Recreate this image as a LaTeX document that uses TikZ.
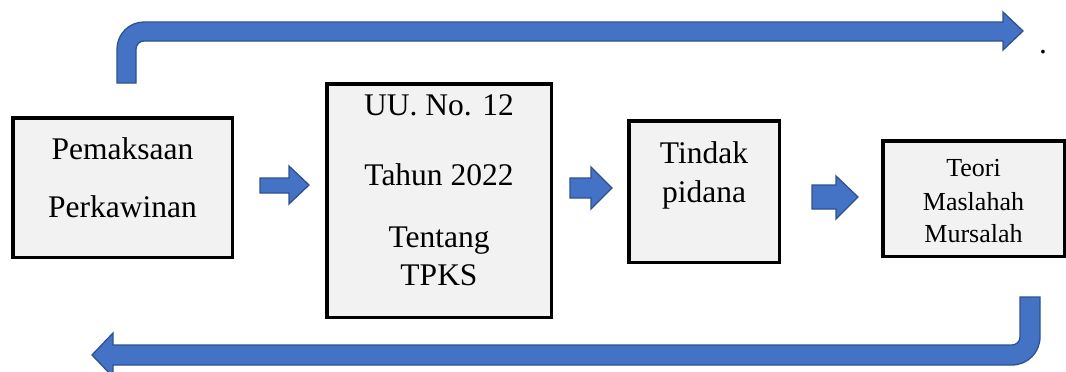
\documentclass[tikz,border=0pt]{standalone}
\usepackage{fontspec}
\setmainfont{Liberation Serif}
\newfontfamily\timesfont{Liberation Serif}
\definecolor{arrowblue}{HTML}{4472C4}
\definecolor{arrowedge}{HTML}{2F528F}
\definecolor{boxfill}{HTML}{F2F2F2}
\tikzset{
  box/.style={draw=black, line width=3.5pt, fill=boxfill, inner sep=0pt},
  blockarrow/.style={fill=arrowblue, draw=arrowedge, line width=1.3pt, line join=miter},
  lbl/.style={anchor=base, inner sep=0pt, font=\timesfont\fontsize{31.5}{36}\selectfont},
  lblsmall/.style={anchor=base, inner sep=0pt, font=\timesfont\fontsize{26}{30}\selectfont}
}
\begin{document}
\begin{tikzpicture}[x=1pt,y=-1pt]
\clip (0,0) rectangle (1066,372);
\fill[white] (0,0) rectangle (1066,372);

% boxes
\node[box, minimum width=219.5pt, minimum height=139.5pt] (b1) at (122.5,187.5) {};
\node[box, minimum width=224.5pt, minimum height=233.5pt] (b2) at (439,200.5) {};
\node[box, minimum width=150.5pt, minimum height=141.5pt] (b3) at (704,191.5) {};
\node[box, minimum width=181.5pt, minimum height=115.5pt] (b4) at (973.5,198.5) {};

% texts
\node[lbl] (t1a) at (122.5,159) {Pemaksaan};
\node[lbl] (t1b) at (122.5,217) {Perkawinan};
\node[lbl] (t2a) at (439,115) {UU. No. 12};
\node[lbl] (t2b) at (439,185) {Tahun 2022};
\node[lbl] (t2c) at (439,247) {Tentang};
\node[lbl] (t2d) at (439,285) {TPKS};
\node[lbl] (t3a) at (704,163) {Tindak};
\node[lbl] (t3b) at (704,202) {pidana};
\node[lblsmall] (t4a) at (973.5,176) {Teori};
\node[lblsmall] (t4b) at (973.5,210) {Maslahah};
\node[lblsmall] (t4c) at (973.5,242) {Mursalah};
\node[lbl] (dot) at (1043,53) {.};

% small block arrows
\draw[blockarrow] (260,178) -- (289,178) -- (289,166) -- (309,185) -- (289,204) -- (289,193) -- (260,193) -- cycle;
\draw[blockarrow] (570,178) -- (591,178) -- (591,167) -- (612,188) -- (591,209) -- (591,198) -- (570,198) -- cycle;
\draw[blockarrow] (812,185) -- (836,185) -- (836,176) -- (858,197) -- (836,219) -- (836,209) -- (812,209) -- cycle;

% top bent arrow
\draw[blockarrow] (117,83) -- (117,49) .. controls (117,34.1) and (129.1,22) .. (144,22)
  -- (1003,22) -- (1003,12) -- (1023,31) -- (1003,50) -- (1003,41) -- (144,41)
  .. controls (139.6,41) and (136,44.6) .. (136,49) -- (136,83) -- cycle;

% bottom bent arrow
\draw[blockarrow] (1020,297) -- (1040,297) -- (1040,337) .. controls (1040,352.5) and (1027.5,365) .. (1012,365)
  -- (113,365) -- (113,377) -- (92,355) -- (113,333) -- (113,345) -- (1012,345)
  .. controls (1016.4,345) and (1020,341.4) .. (1020,337) -- cycle;
\end{tikzpicture}
\end{document}
